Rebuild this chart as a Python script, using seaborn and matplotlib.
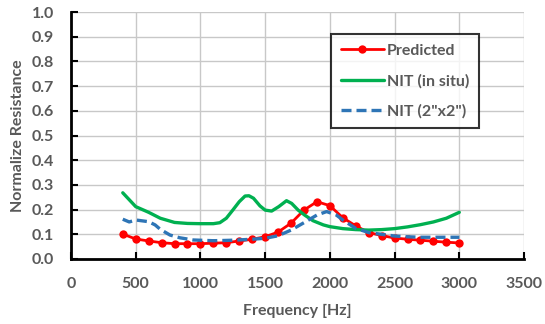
import matplotlib
matplotlib.use("Agg")
import matplotlib.pyplot as plt
import seaborn as sns
import pandas as pd

pred_freq = list(range(400, 3001, 100))
pred_val = [0.101, 0.081, 0.073, 0.066, 0.062, 0.062, 0.062, 0.064, 0.066, 0.073,
            0.080, 0.090, 0.109, 0.145, 0.198, 0.232, 0.216, 0.167, 0.134, 0.107,
            0.095, 0.085, 0.080, 0.076, 0.072, 0.068, 0.065]

situ_freq = [400, 500, 600, 690, 800, 900, 1000, 1100, 1150, 1200, 1250, 1300, 1345,
             1375, 1410, 1460, 1500, 1550, 1605, 1665, 1705, 1755, 1805, 1870, 1950,
             2000, 2100, 2200, 2300, 2400, 2500, 2600, 2700, 2800, 2900, 3000]
situ_val = [0.268, 0.212, 0.189, 0.165, 0.148, 0.144, 0.143, 0.143, 0.147, 0.165,
            0.198, 0.232, 0.255, 0.256, 0.246, 0.215, 0.198, 0.194, 0.212, 0.236,
            0.225, 0.198, 0.178, 0.155, 0.138, 0.131, 0.123, 0.119, 0.117, 0.119,
            0.123, 0.130, 0.139, 0.150, 0.165, 0.189]

lab_freq = [400, 450, 500, 600, 650, 690, 765, 840, 945, 1100, 1250, 1400, 1500,
            1600, 1700, 1800, 1900, 1975, 2050, 2100, 2200, 2300, 2400, 2500, 2600,
            2700, 2800, 3000]
lab_val = [0.161, 0.150, 0.158, 0.151, 0.138, 0.120, 0.097, 0.086, 0.077, 0.074,
           0.076, 0.080, 0.084, 0.094, 0.117, 0.147, 0.178, 0.192, 0.178, 0.158,
           0.124, 0.107, 0.100, 0.093, 0.090, 0.088, 0.088, 0.088]

x_ticks = [0, 500, 1000, 1500, 2000, 2500, 3000, 3500]
y_ticks = [0.0, 0.1, 0.2, 0.3, 0.4, 0.5, 0.6, 0.7, 0.8, 0.9, 1.0]

sns.set_theme(style="white")
plt.rcParams['font.family'] = ['Lato', 'DejaVu Sans']

fig = plt.figure(figsize=(5.45, 3.24), dpi=100)
ax = fig.add_axes([71/545, 1 - 259/324, 453/545, 247/324])

df_p = pd.DataFrame({"f": pred_freq, "v": pred_val})
df_s = pd.DataFrame({"f": situ_freq, "v": situ_val})
df_l = pd.DataFrame({"f": lab_freq, "v": lab_val})

sns.lineplot(data=df_p, x="f", y="v", ax=ax, color="#FF0000", lw=2, marker="o",
             markersize=6, markeredgewidth=0, label="Predicted")
sns.lineplot(data=df_s, x="f", y="v", ax=ax, color="#00B050", lw=2.4,
             label="NIT (in situ)")
sns.lineplot(data=df_l, x="f", y="v", ax=ax, color="#2E75B6", lw=2.4,
             label='NIT (2"x2")', linestyle=(0, (3, 1.5)))

ax.set_xlim(0, 3500)
ax.set_ylim(0, 1.0)
ax.set_xticks(x_ticks)
ax.set_yticks(y_ticks)
ax.set_xticklabels([str(t) for t in x_ticks])
ax.set_yticklabels([f"{t:.1f}" for t in y_ticks])
ax.grid(True, color="#C8C8C8", lw=1)
ax.set_axisbelow(True)
for s in ["top", "right"]:
    ax.spines[s].set_visible(False)
for s in ["left", "bottom"]:
    ax.spines[s].set_color("black")
    ax.spines[s].set_linewidth(2)
ax.tick_params(direction="in", length=5, width=1.5, color="black",
               labelsize=11.5, labelcolor="#595959",
               left=True, bottom=True)
ax.tick_params(axis="x", pad=13)
ax.tick_params(axis="y", pad=12)
for lbl in ax.get_xticklabels() + ax.get_yticklabels():
    lbl.set_fontweight("bold")
ax.set_xlabel("Frequency [Hz]", fontsize=11.5, fontweight="bold", color="#595959", labelpad=9)
ax.set_ylabel("Normalize Resistance", fontsize=11.5, fontweight="bold", color="#595959", labelpad=5)

leg = ax.legend(loc="upper left", bbox_to_anchor=(0.574, 0.911), borderaxespad=0,
                frameon=True, fancybox=False, edgecolor="black", fontsize=11.5,
                handlelength=2.7, labelspacing=1.0, borderpad=0.6,
                handletextpad=0.2)
leg.get_frame().set_linewidth(1.5)
for t in leg.get_texts():
    t.set_fontweight("bold")
    t.set_color("#595959")

fig.savefig("out.png", dpi=100)
